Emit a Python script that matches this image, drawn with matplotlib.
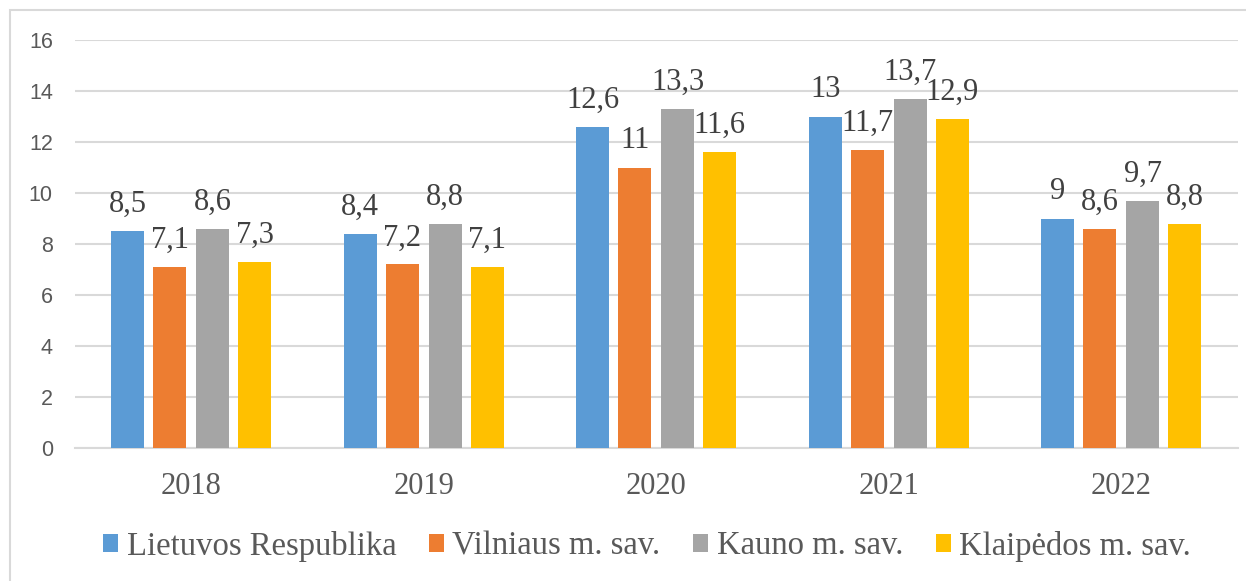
import numpy as np
import matplotlib
matplotlib.use('Agg')
import matplotlib.pyplot as plt
from matplotlib.patches import Rectangle

#***************** Data ***************#
years = ['2018', '2019', '2020', '2021', '2022']
series = ['Lietuvos Respublika', 'Vilniaus m. sav.', 'Kauno m. sav.', 'Klaipėdos m. sav.']
lt = [8.5, 8.4, 12.6, 13.0, 9.0]
vilnius = [7.1, 7.2, 11.0, 11.7, 8.6]
kaunas = [8.6, 8.8, 13.3, 13.7, 9.7]
klaipeda = [7.3, 7.1, 11.6, 12.9, 8.8]
colors = ['#5B9BD5', '#ED7D31', '#A5A5A5', '#FFC000']
#**************************************#

fig = plt.figure(figsize=(12.46, 5.81), dpi=100)
ax = fig.add_axes([75/1246, 1 - 448/581, (1237.5 - 75)/1246, (448 - 40)/581])

x = np.arange(len(years))
offsets = [-0.273, -0.0925, 0.0925, 0.273]
width = 0.142

def fmt(v):
	# comma as decimal separator, drop trailing ,0
	s = ('%.1f' % v).rstrip('0').rstrip('.')
	return s.replace('.', ',')

for vals, off, col, name in zip([lt, vilnius, kaunas, klaipeda], offsets, colors, series):
	bars = ax.bar(x + off, vals, width, color=col, label=name, zorder=3)
	for b, v in zip(bars, vals):
		ax.annotate(fmt(v), (b.get_x() + b.get_width()/2, v), xytext=(0, 13.7),
			textcoords='offset points', ha='center', va='baseline',
			fontsize=22, family='Liberation Serif', color='#404040', zorder=4)

ax.set_xlim(-0.5, 4.5)
ax.set_ylim(0, 16)
ax.set_yticks(range(0, 17, 2))
ax.set_xticks(x)
ax.set_xticklabels(years, family='Liberation Serif', fontsize=22, color='#595959')
for lab in ax.get_yticklabels():
	lab.set_family('Liberation Sans')
	lab.set_fontsize(15.5)
	lab.set_color('#595959')
ax.tick_params(axis='y', length=0, pad=16)
ax.tick_params(axis='x', length=0, pad=17)
ax.grid(axis='y', color='#D9D9D9', linewidth=1.5, zorder=0)
for s in ['top', 'right', 'left']:
	ax.spines[s].set_visible(False)
ax.spines['bottom'].set_color('#D9D9D9')
ax.spines['bottom'].set_linewidth(1.5)

fig.legend(loc='center', bbox_to_anchor=(647/1246, 1 - 546/581), ncol=4, frameon=False,
	prop={'family': 'Liberation Serif', 'size': 23.5}, labelcolor='#595959',
	handlelength=0.47, handleheight=0.47, handletextpad=0.25, columnspacing=1.0)

# outer chart border
fig.patches.append(Rectangle((10/1246, -0.1), 1.2, 1 - 10/581 + 0.1, transform=fig.transFigure,
	fill=False, edgecolor='#D9D9D9', linewidth=1.5))

fig.savefig('out.png', dpi=100)
